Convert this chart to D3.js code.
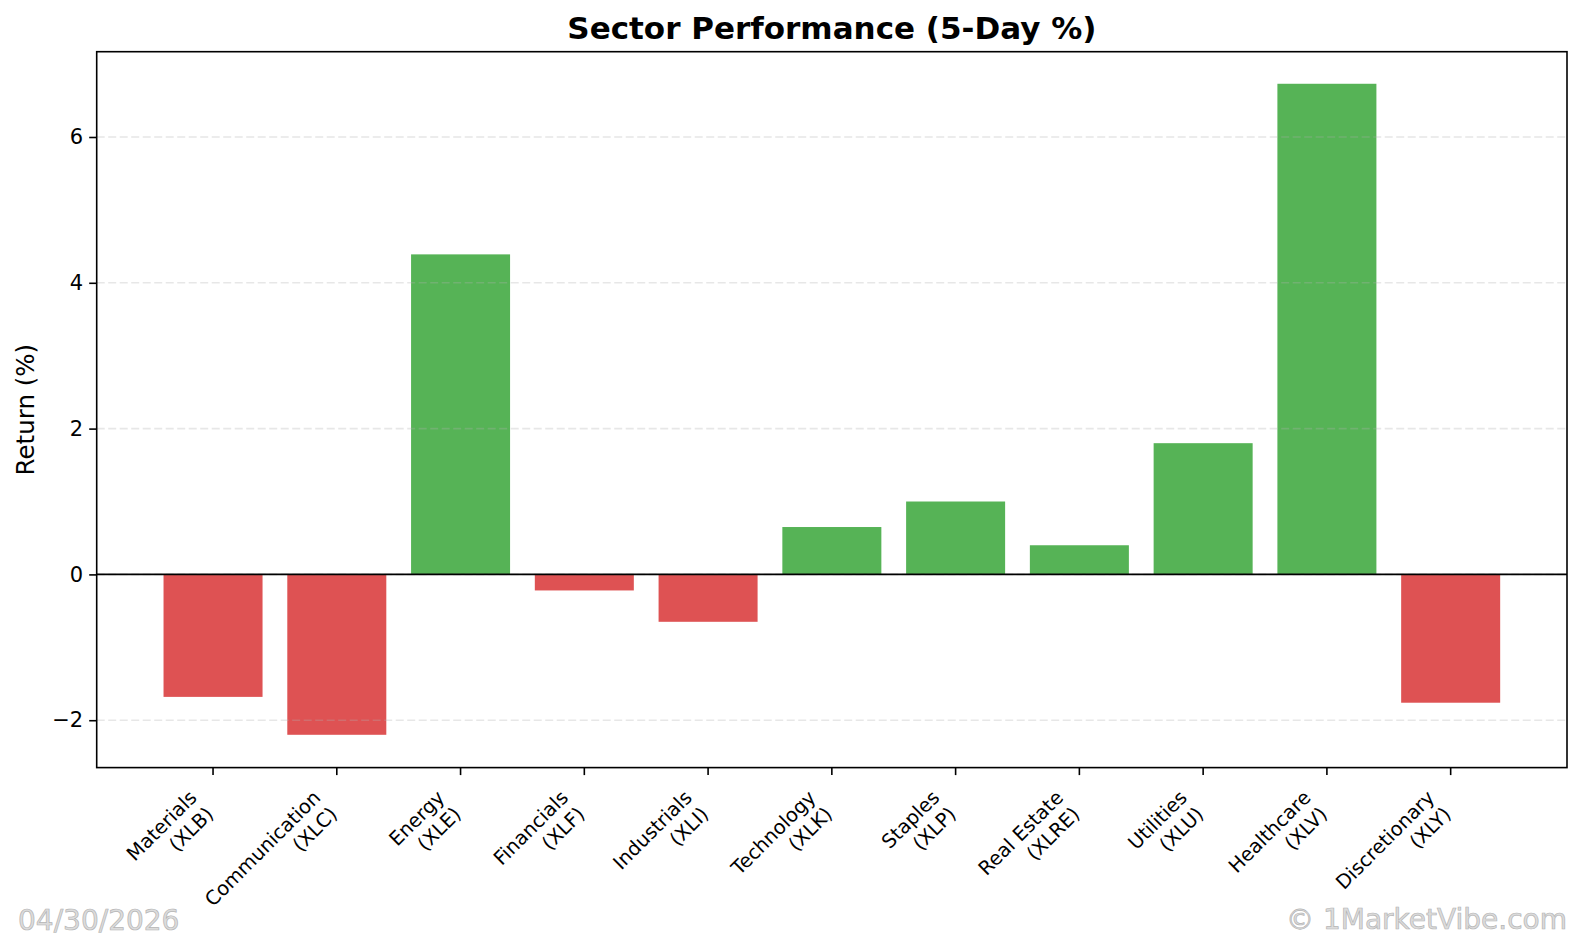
<!DOCTYPE html>
<html>
<head>
<meta charset="utf-8">
<script src="https://cdn.jsdelivr.net/npm/d3@7"></script>
<style>
  body { margin: 0; background: #fff; }
  text { font-family: "DejaVu Sans", sans-serif; }
</style>
</head>
<body>
<script>
// sector ETFs, 5-day return in %
const sectors = ["Materials", "Communication", "Energy", "Financials", "Industrials",
                 "Technology", "Staples", "Real Estate", "Utilities", "Healthcare", "Discretionary"];
const tickers = ["XLB", "XLC", "XLE", "XLF", "XLI", "XLK", "XLP", "XLRE", "XLU", "XLV", "XLY"];
const returns = [-1.68, -2.20, 4.39, -0.22, -0.65, 0.65, 1.00, 0.40, 1.80, 6.73, -1.76];
const yTicks = [-2, 0, 2, 4, 6];

const w = 1584;
const h = 940;
const plot = {left: 96.7, right: 1567, top: 51.7, bottom: 767.6};

const bardata = tickers.map((t, i) => ({ticker: t, sector: sectors[i], value: returns[i]}));

const xScale = d3.scaleBand()
    .domain(tickers)
    .range([plot.left, plot.right])
    .paddingInner(0.2)
    .paddingOuter(0.54);

const yScale = d3.scaleLinear()
    .domain([-2.65, 7.17])
    .range([plot.bottom, plot.top]);

const svg = d3.select("body")
  .append("svg")
    .attr("width", w)
    .attr("height", h);

svg.append("rect")
    .attr("width", w)
    .attr("height", h)
    .attr("fill", "white");

// bars
svg.append("g")
  .selectAll("rect")
  .data(bardata)
  .enter().append("rect")
    .attr("x", d => xScale(d.ticker))
    .attr("y", d => yScale(Math.max(0, d.value)))
    .attr("width", xScale.bandwidth())
    .attr("height", d => Math.abs(yScale(d.value) - yScale(0)))
    .attr("fill", d => d.value >= 0 ? "#2ca02c" : "#d62728")
    .attr("fill-opacity", 0.8);

// dashed grid on top of bars
svg.append("g")
  .selectAll("line")
  .data(yTicks)
  .enter().append("line")
    .attr("x1", plot.left)
    .attr("x2", plot.right)
    .attr("y1", d => yScale(d))
    .attr("y2", d => yScale(d))
    .attr("stroke", "#b0b0b0")
    .attr("stroke-opacity", 0.3)
    .attr("stroke-width", 1.6)
    .attr("stroke-dasharray", "8,3.5");

// zero line
svg.append("line")
    .attr("x1", plot.left)
    .attr("x2", plot.right)
    .attr("y1", yScale(0))
    .attr("y2", yScale(0))
    .attr("stroke", "black")
    .attr("stroke-width", 1.6);

// axes
const yAxis = d3.axisLeft(yScale)
    .tickValues(yTicks)
    .tickSize(7.5)
    .tickPadding(6)
    .tickFormat(d => d < 0 ? "\u2212" + Math.abs(d) : d);

const gy = svg.append("g")
    .attr("transform", `translate(${plot.left},0)`)
    .call(yAxis);
gy.select(".domain").remove();
gy.selectAll("line").attr("stroke", "black").attr("stroke-width", 1.6);
gy.selectAll("text")
    .attr("font-family", "DejaVu Sans")
    .attr("font-size", 21)
    .attr("fill", "black");

const xAxis = d3.axisBottom(xScale)
    .tickSize(7.5)
    .tickFormat("");

const gx = svg.append("g")
    .attr("transform", `translate(0,${plot.bottom})`)
    .call(xAxis);
gx.select(".domain").remove();
gx.selectAll("line").attr("stroke", "black").attr("stroke-width", 1.6);

// two-line labels, rotated 45deg, right aligned to the tick
const fs = 19.5;
gx.selectAll(".tick").each(function(d, i) {
  const t = d3.select(this).append("text")
      .attr("transform", "translate(-15,31.2) rotate(-45)")
      .attr("text-anchor", "end")
      .attr("font-family", "DejaVu Sans")
      .attr("font-size", fs)
      .attr("fill", "black");
  t.append("tspan").attr("x", 0).attr("y", 0).text(sectors[i]);
  t.append("tspan").attr("x", 0).attr("y", fs * 1.2).text(`(${tickers[i]})`);
});

// frame
svg.append("rect")
    .attr("x", plot.left)
    .attr("y", plot.top)
    .attr("width", plot.right - plot.left)
    .attr("height", plot.bottom - plot.top)
    .attr("fill", "none")
    .attr("stroke", "black")
    .attr("stroke-width", 1.6);

// title and label
svg.append("text")
    .attr("x", (plot.left + plot.right) / 2)
    .attr("y", 39)
    .attr("text-anchor", "middle")
    .attr("font-size", 31)
    .attr("font-weight", "bold")
    .text("Sector Performance (5-Day %)");

svg.append("text")
    .attr("transform", `translate(34,${(plot.top + plot.bottom) / 2}) rotate(-90)`)
    .attr("text-anchor", "middle")
    .attr("font-size", 24.5)
    .text("Return (%)");

// watermarks
svg.append("text")
    .attr("x", 18)
    .attr("y", 930)
    .attr("font-size", 28)
    .attr("fill", "#dcdcdc")
    .attr("stroke", "#b4b4b4")
    .attr("stroke-width", 0.7)
    .text("04/30/2026");

svg.append("text")
    .attr("x", 1567)
    .attr("y", 929)
    .attr("text-anchor", "end")
    .attr("font-size", 28)
    .attr("fill", "#dcdcdc")
    .attr("stroke", "#b4b4b4")
    .attr("stroke-width", 0.7)
    .text("\u00a9 1MarketVibe.com");
</script>
</body>
</html>
